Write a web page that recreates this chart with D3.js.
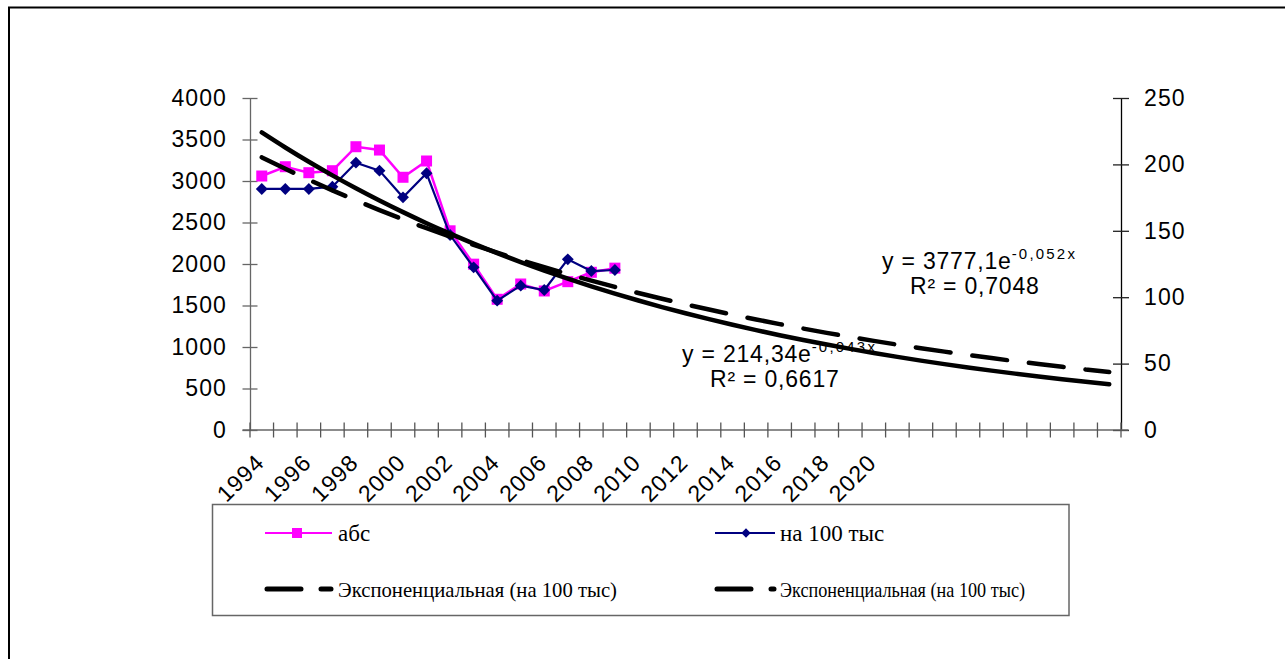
<!DOCTYPE html>
<html>
<head>
<meta charset="utf-8">
<script src="https://cdn.jsdelivr.net/npm/d3@7"></script>
<style>
    body { margin: 0; background: #fff; }
    svg { display: block; }
    .tick-label { font-family: "Liberation Sans", Arial, sans-serif; font-size: 23px; letter-spacing: 1.1px; fill: #000; }
    .eq { font-family: "Liberation Sans", Arial, sans-serif; font-size: 23px; letter-spacing: 0.8px; fill: #000; }
    .legend-text { font-family: "Liberation Serif", "Times New Roman", serif; fill: #000; }
</style>
</head>
<body>
<div id="chart"></div>
<script>
// categories (forecast periods after 2020 carry no label)
const years = [1994, 1995, 1996, 1997, 1998, 1999, 2000, 2001, 2002, 2003, 2004, 2005,
    2006, 2007, 2008, 2009, 2010, 2011, 2012, 2013, 2014, 2015, 2016, 2017, 2018, 2019,
    2020, 2021, 2022, 2023, 2024, 2025, 2026, 2027, 2028, 2029, 2030];
const tickYears = [1994, 1996, 1998, 2000, 2002, 2004, 2006, 2008, 2010, 2012, 2014, 2016, 2018, 2020];

// series (1994 - 2009)
const absValues = [3060, 3172, 3100, 3124, 3413, 3373, 3045, 3241, 2400, 1998, 1575, 1759, 1675, 1787, 1900, 1950];
const per100kValues = [181.5, 181.5, 181.5, 183.2, 201.3, 195.3, 175.2, 193.3, 146.8, 122.5, 97.4, 108.7, 105.4, 128.5, 119.7, 120.5];

// exponential trend coefficients as shown on the chart: y = a * e^(b*x)
const absTrendCoef = [3777.1, -0.052];
const per100kTrendCoef = [214.34, -0.043];

// axis ticks
const leftTicks = [0, 500, 1000, 1500, 2000, 2500, 3000, 3500, 4000];
const rightTicks = [0, 50, 100, 150, 200, 250];

// legend labels
const legendLabels = ["абс", "на 100 тыс", "Экспоненциальная (на 100 тыс)", "Экспоненциальная (на 100 тыс)"];

const W = 1285, H = 659;
const plot = { left: 250, right: 1121, top: 98, bottom: 430 };

const svg = d3.select("#chart").append("svg")
    .attr("width", W)
    .attr("height", H);

// outer chart frame (runs off the page on the right and bottom)
svg.append("rect")
    .attr("x", 9).attr("y", 7.5)
    .attr("width", 1400).attr("height", 800)
    .attr("fill", "none")
    .attr("stroke", "#000")
    .attr("stroke-width", 2);

// scales
let x = d3.scaleBand().domain(years).range([plot.left, plot.right]).padding(0);
let cx = d => x(d) + x.bandwidth() / 2;
let yLeft = d3.scaleLinear().domain([0, 4000]).range([plot.bottom, plot.top]);
let yRight = d3.scaleLinear().domain([0, 250]).range([plot.bottom, plot.top]);

// left axis
let leftAxis = svg.append("g")
    .attr("transform", `translate(${plot.left},0)`)
    .call(d3.axisLeft(yLeft).tickValues(leftTicks).tickFormat(d3.format("d"))
        .tickSizeInner(7).tickSizeOuter(0).tickPadding(16));
leftAxis.select(".domain").attr("stroke", "#666").attr("stroke-width", 1.3);
leftAxis.selectAll(".tick line").attr("x1", 7.5).attr("x2", -7.5).attr("stroke", "#666").attr("stroke-width", 1.3);
leftAxis.selectAll(".tick text").attr("class", "tick-label").attr("font-size", null).attr("font-family", null);

// right axis
let rightAxis = svg.append("g")
    .attr("transform", `translate(${plot.right},0)`)
    .call(d3.axisRight(yRight).tickValues(rightTicks).tickFormat(d3.format("d"))
        .tickSizeInner(8).tickSizeOuter(0).tickPadding(15));
rightAxis.select(".domain").attr("stroke", "#000").attr("stroke-width", 1.3);
rightAxis.selectAll(".tick line").attr("x1", -8).attr("x2", 8).attr("stroke", "#222").attr("stroke-width", 1.3);
rightAxis.selectAll(".tick text").attr("class", "tick-label").attr("font-size", null).attr("font-family", null);

// category axis
let xAxis = svg.append("g");
xAxis.append("line")
    .attr("x1", plot.left - 7.5).attr("x2", plot.right + 7.5)
    .attr("y1", plot.bottom).attr("y2", plot.bottom)
    .attr("stroke", "#666").attr("stroke-width", 1.3);
xAxis.selectAll(".xtick")
    .data(years.concat([null]))
    .enter().append("line")
    .attr("class", "xtick")
    .attr("x1", (d, i) => plot.left + i * x.step())
    .attr("x2", (d, i) => plot.left + i * x.step())
    .attr("y1", plot.bottom - 7.5).attr("y2", plot.bottom + 7.5)
    .attr("stroke", "#555").attr("stroke-width", 1.3);
xAxis.selectAll(".xlabel")
    .data(tickYears)
    .enter().append("text")
    .attr("class", "tick-label")
    .attr("text-anchor", "end")
    .attr("transform", d => `translate(${cx(d) + 4},${plot.bottom + 34}) rotate(-45)`)
    .text(d => d);

// trend equation labels (drawn under the lines, as in the original)
function equation(xPos, yPos, eqText, expText, r2Text, r2Dx) {
    let t = svg.append("text").attr("class", "eq").attr("x", xPos).attr("y", yPos);
    t.append("tspan").text(eqText);
    t.append("tspan").attr("dy", -10).attr("font-size", 15).attr("letter-spacing", 2.2).text(expText);
    svg.append("text").attr("class", "eq").attr("x", xPos + r2Dx).attr("y", yPos + 25).text(r2Text);
}
equation(882, 269, "y = 3777,1e", "-0,052x", "R² = 0,7048", 28);
equation(682, 362, "y = 214,34e", "-0,043x", "R² = 0,6617", 28);

// data series
let absLine = d3.line().x((d, i) => cx(years[i])).y(d => yLeft(d));
let rateLine = d3.line().x((d, i) => cx(years[i])).y(d => yRight(d));

svg.append("path")
    .datum(absValues)
    .attr("d", absLine)
    .attr("fill", "none")
    .attr("stroke", "#ff00ff")
    .attr("stroke-width", 2.5);
svg.selectAll(".abs-marker")
    .data(absValues)
    .enter().append("rect")
    .attr("class", "abs-marker")
    .attr("x", (d, i) => cx(years[i]) - 5.5)
    .attr("y", d => yLeft(d) - 5.5)
    .attr("width", 11).attr("height", 11)
    .attr("fill", "#ff00ff");

svg.append("path")
    .datum(per100kValues)
    .attr("d", rateLine)
    .attr("fill", "none")
    .attr("stroke", "#000080")
    .attr("stroke-width", 2.2);
let diamond = d3.symbol().type(d3.symbolDiamond2).size(90);
svg.selectAll(".rate-marker")
    .data(per100kValues)
    .enter().append("path")
    .attr("class", "rate-marker")
    .attr("d", diamond)
    .attr("transform", (d, i) => `translate(${cx(years[i])},${yRight(d)})`)
    .attr("fill", "#000080");

// exponential trend lines over every category (x = 1..n)
let absTrend = years.map((yr, i) => ({ year: yr, value: absTrendCoef[0] * Math.exp(absTrendCoef[1] * (i + 1)) }));
let rateTrend = years.map((yr, i) => ({ year: yr, value: per100kTrendCoef[0] * Math.exp(per100kTrendCoef[1] * (i + 1)) }));

svg.append("path")
    .datum(absTrend)
    .attr("d", d3.line().curve(d3.curveMonotoneX).x(d => cx(d.year)).y(d => yLeft(d.value)))
    .attr("fill", "none")
    .attr("stroke", "#000")
    .attr("stroke-width", 4.5)
    .attr("stroke-linecap", "round");

svg.append("path")
    .datum(rateTrend)
    .attr("d", d3.line().curve(d3.curveMonotoneX).x(d => cx(d.year)).y(d => yRight(d.value)))
    .attr("fill", "none")
    .attr("stroke", "#000")
    .attr("stroke-width", 4.5)
    .attr("stroke-linecap", "round")
    .attr("stroke-dasharray", "35,22");

// legend
let legend = svg.append("g");
legend.append("rect")
    .attr("x", 212.5).attr("y", 504.5)
    .attr("width", 856.5).attr("height", 111)
    .attr("fill", "#fff")
    .attr("stroke", "#666")
    .attr("stroke-width", 1.5);

// абс
legend.append("line").attr("x1", 265).attr("x2", 332).attr("y1", 533).attr("y2", 533)
    .attr("stroke", "#ff00ff").attr("stroke-width", 2.2);
legend.append("rect").attr("x", 292).attr("y", 528).attr("width", 10).attr("height", 10).attr("fill", "#ff00ff");
legend.append("text").attr("class", "legend-text").attr("x", 338).attr("y", 541)
    .attr("font-size", 23).text(legendLabels[0]);

// на 100 тыс
legend.append("line").attr("x1", 715).attr("x2", 775).attr("y1", 533).attr("y2", 533)
    .attr("stroke", "#000080").attr("stroke-width", 2.2);
legend.append("path").attr("d", d3.symbol().type(d3.symbolDiamond2).size(55))
    .attr("transform", "translate(746,533)").attr("fill", "#000080");
legend.append("text").attr("class", "legend-text").attr("x", 780).attr("y", 541)
    .attr("font-size", 23).text(legendLabels[1]);

// exponential entries
[[265, 333, 338, 279], [715, 776, 780, 245]].forEach((c, i) => {
    legend.append("line").attr("x1", c[0] + 2).attr("x2", c[1] - 2).attr("y1", 589).attr("y2", 589)
        .attr("stroke", "#000").attr("stroke-width", 5)
        .attr("stroke-linecap", "round")
        .attr("stroke-dasharray", "34,20");
    legend.append("text").attr("class", "legend-text").attr("x", c[2]).attr("y", 597)
        .attr("font-size", 21)
        .attr("textLength", c[3]).attr("lengthAdjust", "spacingAndGlyphs")
        .text(legendLabels[2 + i]);
});
</script>
</body>
</html>
